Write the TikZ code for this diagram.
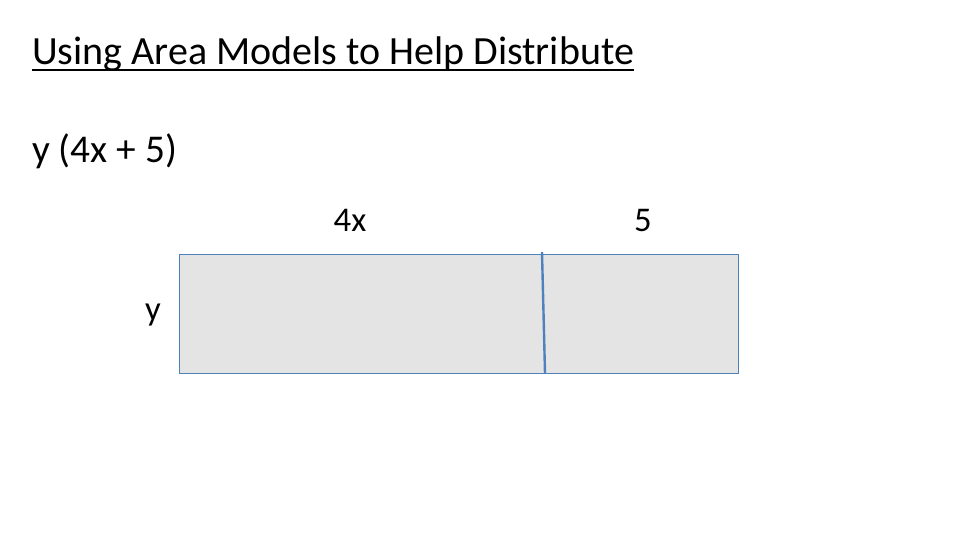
\documentclass[tikz,border=0pt]{standalone}
\usepackage{fontspec}
\setmainfont{Carlito}
\usetikzlibrary{positioning}
\definecolor{cellblue}{RGB}{79,129,189}
\definecolor{cellgray}{RGB}{228,228,228}

\begin{document}
\begin{tikzpicture}[x=0.75pt, y=-0.75pt]
		\useasboundingbox (0,0) rectangle (960,540);
		\tikzset{
			lbl/.style={inner sep=0pt, font=\fontsize{26}{30}\selectfont},
			cell/.style={draw=cellblue, fill=cellgray, line width=0.75pt}
		}
		\node[inner sep=0pt, anchor=base west, font=\fontsize{30}{36}\selectfont] (title) at (32,64) {Using Area Models to Help Distribute};
		\draw[line width=1.6pt] ([yshift=-4.5pt]title.base west) -- ([yshift=-4.5pt]title.base east);
		\node[lbl, anchor=base west, font=\fontsize{29.5}{34}\selectfont] (expr) at (32,162) {y (4x + 5)};
		\node[lbl, anchor=base] (top4x) at (350,231) {4x};
		\node[lbl, anchor=base] (top5) at (643,231) {5};
		\node[lbl, anchor=base] (side) at (153,320) {y};
		% the area model
		\draw[cell] (179,254) rectangle (738,373);
		\coordinate (cut1) at (542,252);
		\coordinate (cut2) at (545,373);
		\draw[cellblue, line width=1.8pt] (cut1) -- (cut2);
	\end{tikzpicture}
\end{document}
